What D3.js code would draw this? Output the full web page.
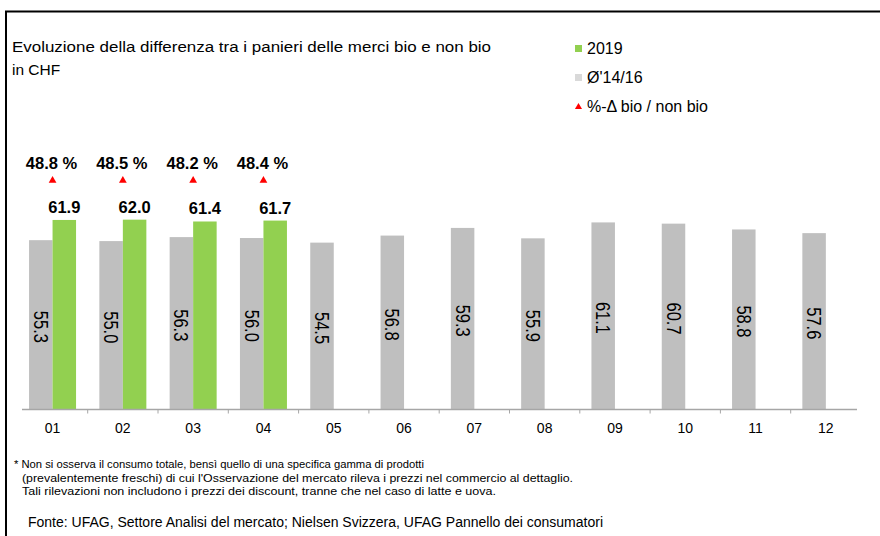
<!DOCTYPE html>
<html>
<head>
<meta charset="utf-8">
<script src="https://cdn.jsdelivr.net/npm/d3@7"></script>
<style>
  body { margin: 0; background: #fff; }
  svg { font-family: "Liberation Sans", Arial, sans-serif; }
</style>
</head>
<body>
<div id="chart"></div>
<script>
// Data
const months = ['01', '02', '03', '04', '05', '06', '07', '08', '09', '10', '11', '12'];
const avg1416 = [55.3, 55.0, 56.3, 56.0, 54.5, 56.8, 59.3, 55.9, 61.1, 60.7, 58.8, 57.6];
const values2019 = [61.9, 62.0, 61.4, 61.7, null, null, null, null, null, null, null, null];
const pctDiff = [48.8, 48.5, 48.2, 48.4, null, null, null, null, null, null, null, null];

const titleLines = ['Evoluzione della differenza tra i panieri delle merci bio e non bio', 'in CHF'];
const legendItems = [
    { label: '2019', type: 'rect', color: '#92D050' },
    { label: 'Ø\'14/16', type: 'rect', color: '#D9D9D9' },
    { label: '%-Δ bio / non bio', type: 'tri', color: '#FF0000' }
];
const footLines = [
    '* Non si osserva il consumo totale, bensì quello di una specifica gamma di prodotti',
    '(prevalentemente freschi) di cui l\'Osservazione del mercato rileva i prezzi nel commercio al dettaglio.',
    'Tali rilevazioni non includono i prezzi dei discount, tranne che nel caso di latte e uova.'
];
const sourceText = 'Fonte: UFAG, Settore Analisi del mercato; Nielsen Svizzera, UFAG Pannello dei consumatori';

const width = 880, height = 536;
const baseY = 409.5;

const svg = d3.select('#chart').append('svg')
    .attr('width', width)
    .attr('height', height);

// Frame (top + left border)
svg.append('path')
    .attr('d', `M6,536 V11.5 H880`)
    .attr('fill', 'none')
    .attr('stroke', '#000')
    .attr('stroke-width', 2);

// Title (first line stretched to match the original width)
const titleWidths = [479, null];
svg.append('text')
    .attr('x', 12)
    .attr('y', 52)
    .style('font-size', '15.5px')
    .style('fill', '#000')
    .selectAll('tspan')
    .data(titleLines)
    .enter()
    .append('tspan')
    .attr('x', 12)
    .attr('dy', (d, i) => i === 0 ? 0 : 23)
    .each(function(d, i) {
        if (titleWidths[i]) {
            d3.select(this)
                .attr('textLength', titleWidths[i])
                .attr('lengthAdjust', 'spacingAndGlyphs');
        }
    })
    .text(d => d);

// Scales
const x = d3.scaleBand()
    .domain(months)
    .range([17.4, 17.4 + 12 * 70.3])
    .paddingInner(0)
    .paddingOuter(0);

const inner = d3.scaleBand()
    .domain(['avg', 'y2019'])
    .range([x.bandwidth() / 2 - 23.5, x.bandwidth() / 2 + 23.5]);

const y = d3.scaleLinear()
    .domain([0, 70])
    .range([baseY, baseY - 70 * 3.062]);

const g = svg.append('g');

// Gray bars (Ø'14/16)
g.selectAll('.bar-avg')
    .data(months)
    .enter()
    .append('rect')
    .attr('class', 'bar-avg')
    .attr('x', (d) => x(d) + inner('avg'))
    .attr('y', (d, i) => y(avg1416[i]))
    .attr('width', inner.bandwidth())
    .attr('height', (d, i) => baseY - y(avg1416[i]))
    .attr('fill', '#BFBFBF');

// Green bars (2019)
const months2019 = months.filter((d, i) => values2019[i] != null);
g.selectAll('.bar-2019')
    .data(months2019)
    .enter()
    .append('rect')
    .attr('class', 'bar-2019')
    .attr('x', d => x(d) + inner('y2019'))
    .attr('y', d => y(values2019[months.indexOf(d)]))
    .attr('width', inner.bandwidth())
    .attr('height', d => baseY - y(values2019[months.indexOf(d)]))
    .attr('fill', '#92D050');

// Rotated labels inside gray bars
g.selectAll('.lbl-avg')
    .data(months)
    .enter()
    .append('text')
    .attr('class', 'lbl-avg')
    .attr('transform', (d, i) => {
        const cx = x(d) + inner('avg') + inner.bandwidth() / 2;
        const cy = (y(avg1416[i]) + baseY) / 2 + 2;
        return `translate(${cx},${cy}) rotate(90) scale(1,1.2)`;
    })
    .attr('text-anchor', 'middle')
    .attr('dy', '0.35em')
    .style('font-size', '16.5px')
    .style('fill', '#000')
    .text((d, i) => avg1416[i].toFixed(1));

// Labels above green bars
g.selectAll('.lbl-2019')
    .data(months2019)
    .enter()
    .append('text')
    .attr('class', 'lbl-2019')
    .attr('x', d => x(d) + inner('y2019') + inner.bandwidth() / 2)
    .attr('y', d => y(values2019[months.indexOf(d)]) - 7)
    .attr('text-anchor', 'middle')
    .style('font-size', '16.5px')
    .style('font-weight', 'bold')
    .style('fill', '#000')
    .text(d => values2019[months.indexOf(d)].toFixed(1));

// Triangles + percent labels
const triY = 180.5;
g.selectAll('.tri')
    .data(months2019)
    .enter()
    .append('path')
    .attr('class', 'tri')
    .attr('d', d3.symbol().type(d3.symbolTriangle).size(26))
    .attr('transform', d => `translate(${x(d) + x.bandwidth() / 2},${triY})`)
    .attr('fill', '#FF0000');

g.selectAll('.lbl-pct')
    .data(months2019)
    .enter()
    .append('text')
    .attr('class', 'lbl-pct')
    .attr('x', d => x(d) + x.bandwidth() / 2 - 1)
    .attr('y', 168.5)
    .attr('text-anchor', 'middle')
    .style('font-size', '16.5px')
    .style('font-weight', 'bold')
    .style('fill', '#000')
    .text(d => pctDiff[months.indexOf(d)].toFixed(1) + ' %');

// X axis
const xAxis = svg.append('g')
    .attr('transform', `translate(0,${baseY})`);

xAxis.append('line')
    .attr('x1', 22)
    .attr('x2', 857)
    .attr('stroke', '#A6A6A6')
    .attr('stroke-width', 1.5);

xAxis.selectAll('.tick-mark')
    .data(months.slice(1))
    .enter()
    .append('line')
    .attr('x1', d => x(d))
    .attr('x2', d => x(d))
    .attr('y1', 0)
    .attr('y2', 4)
    .attr('stroke', '#A6A6A6');

xAxis.selectAll('.tick-label')
    .data(months)
    .enter()
    .append('text')
    .attr('x', d => x(d) + x.bandwidth() / 2)
    .attr('y', 23)
    .attr('text-anchor', 'middle')
    .style('font-size', '14px')
    .style('fill', '#000')
    .text(d => d);

// Legend
const legend = svg.append('g')
    .attr('transform', 'translate(575, 0)');

legendItems.forEach((item, i) => {
    const rowY = 54 + i * 29;
    if (item.type === 'rect') {
        legend.append('rect')
            .attr('x', 0)
            .attr('y', rowY - 9)
            .attr('width', 7)
            .attr('height', 7)
            .attr('fill', item.color);
    } else {
        legend.append('path')
            .attr('d', d3.symbol().type(d3.symbolTriangle).size(22))
            .attr('transform', `translate(3.5,${rowY - 5})`)
            .attr('fill', item.color);
    }
    legend.append('text')
        .attr('x', 12)
        .attr('y', rowY)
        .style('font-size', '16px')
        .style('fill', '#000')
        .text(item.label);
});

// Footnote
const footX = [14, 22, 22];
const footW = [410, 551, 474];
svg.append('text')
    .attr('y', 468)
    .style('font-size', '11.5px')
    .style('fill', '#000')
    .selectAll('tspan')
    .data(footLines)
    .enter()
    .append('tspan')
    .attr('x', (d, i) => footX[i])
    .attr('dy', (d, i) => i === 0 ? 0 : 13.5)
    .attr('textLength', (d, i) => footW[i])
    .attr('lengthAdjust', 'spacingAndGlyphs')
    .text(d => d);

svg.append('text')
    .attr('x', 28)
    .attr('y', 527)
    .attr('textLength', 575)
    .attr('lengthAdjust', 'spacingAndGlyphs')
    .style('font-size', '14px')
    .style('fill', '#000')
    .text(sourceText);
</script>
</body>
</html>
